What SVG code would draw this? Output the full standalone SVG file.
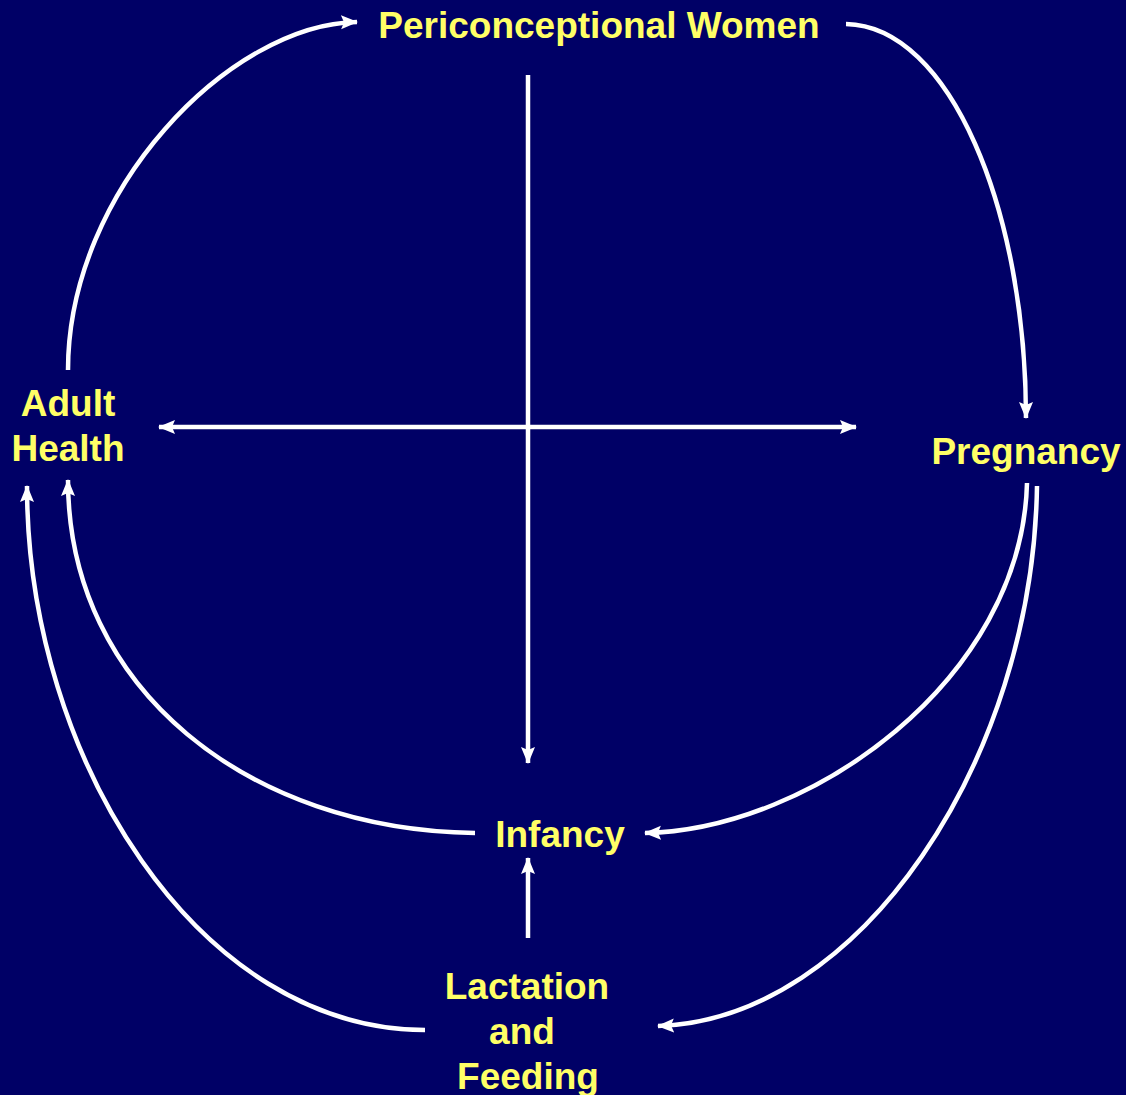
<svg xmlns="http://www.w3.org/2000/svg" width="1126" height="1095" viewBox="0 0 1126 1095">
<defs>
<style>
.lbl{font-family:"Liberation Sans",Arial,sans-serif;font-weight:bold;font-size:37px;fill:#FFFF66;text-anchor:middle}
.c{fill:none;stroke:#FFFFFF;stroke-width:4.5}
</style>
<marker id="ah" markerUnits="userSpaceOnUse" markerWidth="18" markerHeight="16" refX="16" refY="8" orient="auto-start-reverse" viewBox="0 0 18 16">
<path d="M0,1 L17,8 L0,15 L3,8 z" fill="#FFFFFF"/>
</marker>
</defs>
<rect width="1126" height="1095" fill="#000066"/>
<g id="connectors">
<path class="c" d="M68,370 C68,190 230,24 357,22" marker-end="url(#ah)"/>
<path class="c" d="M846,24 C950,26 1026,210 1026,418" marker-end="url(#ah)"/>
<path class="c" d="M528,75 L528,763" marker-end="url(#ah)"/>
<path class="c" d="M159,427 L856,427" marker-start="url(#ah)" marker-end="url(#ah)"/>
<path class="c" d="M1027,483 C1022,680 810,830 645,833" marker-end="url(#ah)"/>
<path class="c" d="M1037,486 C1033,760 860,1020 658,1026" marker-end="url(#ah)"/>
<path class="c" d="M475,833 C250,830 68,690 68,480" marker-end="url(#ah)"/>
<path class="c" d="M425,1030 C200,1030 27,760 27,486" marker-end="url(#ah)"/>
<path class="c" d="M528,938 L528,858" marker-end="url(#ah)"/>
</g>
<g id="periconceptional"><text class="lbl" x="599" y="38">Periconceptional Women</text></g>
<g id="pregnancy"><text class="lbl" x="1026" y="464">Pregnancy</text></g>
<g id="adult-health"><text class="lbl" x="68" y="416">Adult</text><text class="lbl" x="68" y="461">Health</text></g>
<g id="infancy"><text class="lbl" x="560" y="847">Infancy</text></g>
<g id="lactation"><text class="lbl" x="527" y="999">Lactation</text><text class="lbl" x="522" y="1044">and</text><text class="lbl" x="528" y="1089">Feeding</text></g>
</svg>
